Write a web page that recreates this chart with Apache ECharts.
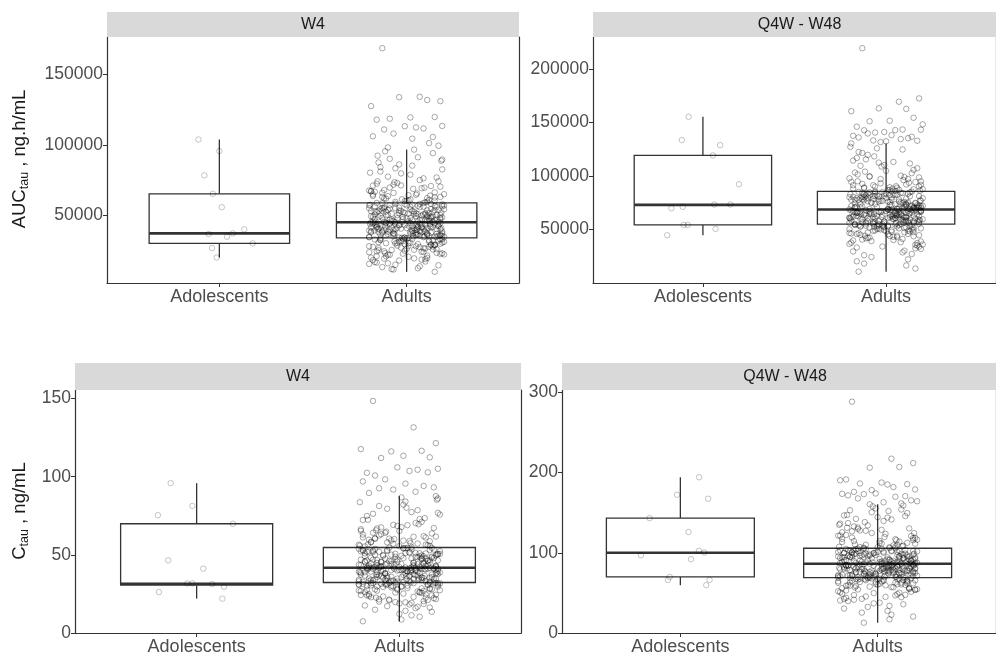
<!DOCTYPE html>
<html>
<head>
<meta charset="utf-8">
<script src="https://cdn.jsdelivr.net/npm/echarts@6/dist/echarts.min.js"></script>
<style>
html,body{margin:0;padding:0;background:#fff;}
#chart{width:996px;height:656px;}
</style>
</head>
<body>
<div id="chart"></div>
<script>
// ---------- data ----------
const categories = ['Adolescents', 'Adults'];
const panelTitles = ['W4', 'Q4W - W48', 'W4', 'Q4W - W48'];

// y-axis tick labels and ranges per panel
const yTicks1 = [50000, 100000, 150000];
const yTicks2 = [50000, 100000, 150000, 200000];
const yTicks3 = [0, 50, 100, 150];
const yTicks4 = [0, 100, 200, 300];
const yRange1 = [2400, 176100];
const yRange2 = [0, 230000];
const yRange3 = [0, 155.5];
const yRange4 = [0, 303];

// box statistics [low whisker, Q1, median, Q3, high whisker] for Adolescents, Adults
const boxAucW4  = [[20400, 30350, 37450, 65400, 103700], [10300, 34200, 45250, 59000, 96600]];
const boxAucW48 = [[44700, 54300, 73000, 119300, 155400], [10600, 55000, 68700, 85600, 130500]];
const boxCW4    = [[22.0, 30.6, 31.5, 69.9, 95.9], [7.4, 32.3, 41.8, 54.7, 87.6]];
const boxCW48   = [[59.6, 69.9, 100, 143.2, 194.2], [12.8, 69.1, 86.4, 105.7, 160.5]];

// adolescents individual values and horizontal jitter (category units)
const adolAucW4  = [103700, 95600, 78400, 65400, 55900, 37000, 35100, 37450, 40300, 30350, 27100, 20400];
const adolAucW4J = [-0.112, 0, -0.08, -0.035, 0.013, -0.057, 0.041, 0.072, 0.133, 0.178, -0.039, -0.014];
const adolAucW48  = [155400, 133600, 128900, 119300, 92400, 69900, 71200, 73400, 73400, 54300, 54300, 50600, 44700];
const adolAucW48J = [-0.078, -0.115, 0.094, 0.055, 0.197, -0.172, -0.11, 0.062, 0.15, -0.105, -0.083, 0.069, -0.195];
const adolCW4  = [95.9, 81.3, 75.4, 69.9, 46.5, 41.2, 31.7, 31.7, 31.3, 29.6, 26.2, 22.0];
const adolCW4J = [-0.128, -0.021, -0.191, 0.179, -0.14, 0.033, -0.046, -0.021, 0.077, 0.135, -0.186, 0.127];
const adolCW48  = [194.2, 172.4, 167.4, 143.2, 125.9, 97.0, 102.5, 100.4, 92.1, 69.9, 66.2, 66.2, 59.6];
const adolCW48J = [0.095, -0.017, 0.141, -0.156, 0.041, -0.2, 0.094, 0.121, 0.054, -0.054, -0.063, 0.148, 0.131];

// adults individual values
const adultAucW4 = [
168200,133900,130800,133600,131600,127300,119300,119600,118400,117700,112200,113300,113100,110800,111500,105500,107900,106000,104300,101200,99300,98100,
27400,18900,31200,22600,33800,15300,29700,24100,12800,30500,26300,20900,32700,17600,28800,23400,33100,19800,25700,10300,
31900,21700,27900,14200,30100,24800,33500,16800,29200,22300,26900,18300,32300,20400,28300,13600,31600,25200,23700,11900,
30800,27100,19300,33300,21200,29900,15900,26100,32000,24500,17200,28600,22900,30300,20100,33900,25900,16300,31400,23100,
29500,18600,27700,12200,32500,21400,26600,14900,30700,24300,19600,28100,
38200,42700,35100,44300,36800,40900,43600,34600,39500,41800,37300,44900,35700,40200,42200,38800,36100,43100,39900,34900,
41300,37700,44600,36400,42900,38500,35400,40600,43900,37000,41000,34400,39200,44100,36600,42400,38000,35900,40400,43400,
37500,41600,44800,35200,39700,42000,36300,38700,43300,40000,34800,41900,37200,44400,39000,35600,42600,36900,40800,43700,
38300,35000,41200,44000,37900,39400,42300,36000,40500,34300,43000,38600,41500,37400,45000,
51200,47300,56800,49100,53700,45800,58200,50400,54900,46700,52500,48200,57400,50900,55600,45500,53100,49700,58700,47800,
52000,56100,46200,54300,48800,51700,57900,50100,45900,55200,49400,53400,47000,56500,51400,48500,58400,46500,54600,52800,
50600,57100,47500,53900,49000,55900,46000,51900,58900,48000,54100,50300,56300,45600,52300,49600,57600,47100,55000,51000,
53300,46900,58100,50700,54700,48400,52700,56600,45400,49900,55400,47700,53600,51600,57200,
62300,71800,66400,84200,60700,77500,68900,92300,64100,73600,88700,61500,69700,80300,65600,95400,63200,75100,70400,86100,
59800,67200,78900,62800,90100,72500,64700,82600,60200,68100,76300,94100,66000,71200,85300,61100,74300,63700,79800,69300,
87500,65100,60500,83400,70900,67700,91200,62000,76900,64400,81100,59400,73000,89600,66800,96600,
41700,28900,52300,36400,63800,47100,33200,55800,39600,24700,49300,44200,58900,31500,42800,67200,37900,53600,46300,29800,
50500,35500,61400,43900,26800,48700,40300,56900,34700,45700,71300,38400,52900,30600,44600,59700,36900,49800,41100,22400,
54400,33700,46800,64900,39100,51300,27900,43400,57300,35800,48100,40700,62100,32300,45200,53200,37100,69800,42000,25600,
50900,34200,47600,58300,38600,44900,30900,55200,41500,66100,36200,51800,43000,28400,49100,39900,60600,33000,46000,54000,
37600,74200,42500,31900,52100,45400,35300,57600,40800,23500,48400,44400,63200,34500,50000,38900,56200,29300,47000,42100
];
const adultAucW48 = [
219500,169500,172600,163300,162800,160600,151700,154500,151200,146100,143000,143300,141200,142800,143500,136700,133300,137600,138200,135400,133000,139800,131800,134600,136100,148300,132500,140700,
48200,36500,52800,41700,13500,53900,45100,30200,50600,38900,54600,43300,24300,47600,34100,51900,39800,54200,44700,18200,
49500,33200,53300,42400,28600,50900,37400,46300,54800,40600,22100,52300,35700,48800,44000,10600,51400,31800,53600,42900,
46900,27100,50100,38100,54400,45600,33900,49100,16400,52600,40200,47200,36000,53100,43700,29500,51100,39200,45900,20300,
48500,35000,53800,41200,26000,50300,37800,47900,32500,52000,44300,54000,
61200,57400,66300,59100,63800,55600,67900,60300,64700,56800,62500,58300,67100,60900,65600,55300,63100,59700,68400,57800,
62000,66000,56200,64300,58800,61700,67600,60100,55900,65100,59400,63400,57000,66600,61400,58500,68100,56500,64500,62800,
60600,67300,57500,63900,59000,65900,56000,61900,68600,58000,64100,60400,66200,55500,62300,59600,67400,57100,65000,61000,
63300,56900,68000,60700,64800,58400,62700,66500,55200,59900,65400,57700,63600,61600,67200,
76200,70400,82800,72900,79300,69100,84700,74600,80900,71300,77800,73500,83900,75300,81600,69500,78600,73100,85200,71000,
77100,82100,69800,80200,72500,76700,84300,74200,69300,81200,73800,79000,70700,82500,76500,72100,84900,70100,80600,78200,
75000,83500,71600,79700,72800,81900,69600,77400,85500,71900,80000,74900,82300,69000,77600,73300,83200,70900,81000,75700,
78900,70300,84500,75400,80400,72300,78400,82700,68800,74000,81400,71200,79500,76000,83700,
88200,101500,93700,118400,86400,108900,96200,127300,90500,104100,121600,87300,98700,112600,92100,130500,89500,105800,99600,116900,
86000,95100,110300,88800,124800,102700,91400,114500,85900,97300,107300,119800,93200,100400,122500,87700,104900,90100,111700,97900,
89000,115600,94400,86900,109600,99100,125900,91800,103300,113200,
64200,51800,76900,58600,88400,69400,55400,80700,62700,45800,72300,66800,84100,53700,70200,94600,60900,78300,67500,49300,
74400,57200,86900,65300,47400,71800,63100,82400,56100,68300,97200,59300,77700,52900,66600,85700,58000,73600,63500,42300,
79300,54800,69900,91400,61300,75400,48900,65800,83300,57600,71100,62400,89300,54000,67900,78000,60300,99600,64600,46600,
75800,55800,70600,84800,61700,68000,51100,81300,63900,92700,59000,76300,65100,50200,72600,62000,87600,53300,68900,79700,
60000,95100,64900,52400,77100,67200,56700,83000,63300,44200,71500,66300,90200,55100,73200,61600,81900,49700,69200,65500
];
const adultCW4 = [
148.5,131.6,121.5,116.2,116.6,117.7,113.4,112.4,112.0,102.5,103.7,105.1,106.0,100.8,104.5,102.8,98.3,97.0,95.6,94.1,93.2,92.6,91.8,90.4,89.6,
27.4,18.9,31.2,22.6,30.8,11.3,29.7,24.1,8.6,30.5,26.3,20.9,31.7,17.6,28.8,23.4,32.1,19.8,25.7,7.5,
31.9,21.7,27.9,14.2,30.1,24.8,31.5,16.8,29.2,22.3,26.9,18.3,32.0,20.4,28.3,13.6,31.6,25.2,23.7,10.4,
30.9,27.1,19.3,31.3,21.2,29.9,15.9,26.1,30.0,24.5,17.2,28.6,22.9,30.3,20.1,31.8,25.9,16.3,31.4,23.1,
29.5,18.6,27.7,12.2,32.2,21.4,26.6,14.9,30.7,24.3,19.6,28.1,
36.2,40.1,33.1,41.3,34.8,38.9,40.6,32.6,37.5,39.8,35.3,41.6,33.7,38.2,40.2,36.8,34.1,40.9,37.9,32.9,
39.3,35.7,41.5,34.4,40.8,36.5,33.4,38.6,41.1,35.0,39.0,32.4,37.2,41.0,34.6,40.4,36.0,33.9,38.4,40.7,
35.5,39.6,41.7,33.2,37.7,40.0,34.3,36.7,41.2,38.0,32.8,39.9,35.2,41.4,37.0,33.6,40.5,34.9,38.8,40.3,
36.3,33.0,39.2,41.8,35.9,37.4,40.3,34.0,38.5,32.3,41.0,36.6,39.5,35.4,41.6,
47.2,43.3,52.8,45.1,49.7,42.1,54.2,46.4,50.9,42.7,48.5,44.2,53.4,46.9,51.6,41.9,49.1,45.7,54.5,43.8,
48.0,52.1,42.4,50.3,44.8,47.7,53.9,46.1,42.0,51.2,45.4,49.4,43.0,52.5,47.4,44.5,54.4,42.5,50.6,48.8,
46.6,53.1,43.5,49.9,45.0,51.9,42.2,47.9,54.6,44.0,50.1,46.3,52.3,41.9,48.3,45.6,53.6,43.1,51.0,47.0,
49.3,42.9,54.1,46.7,50.7,44.4,48.7,52.6,42.3,45.9,51.4,43.7,49.6,47.6,53.2,
58.3,67.8,62.4,80.2,56.7,73.5,64.9,85.3,60.1,69.6,83.7,57.5,65.7,76.3,61.6,87.6,59.2,71.1,66.4,82.1,
55.8,63.2,74.9,58.8,86.1,68.5,60.7,78.6,56.2,64.1,72.3,84.1,62.0,67.2,81.3,57.1,70.3,59.7,75.8,65.3,
79.5,61.1,56.5,77.4,66.9,63.7,86.8,58.0,72.9,60.4,76.9,55.4,69.0,
40.1,28.6,50.7,35.3,61.2,44.9,32.1,53.8,38.2,24.1,47.6,42.6,57.3,30.2,41.2,65.4,36.1,51.9,44.4,27.7,
48.9,34.0,59.1,42.0,25.8,46.5,39.0,55.0,33.1,43.8,69.2,36.9,51.0,29.4,42.9,58.0,35.6,48.2,39.5,21.5,
52.4,32.4,45.1,63.0,37.6,49.4,26.9,41.8,55.6,34.5,46.2,39.2,60.3,31.1,43.5,51.2,35.7,67.6,40.4,24.8,
49.0,32.9,45.9,56.5,37.1,43.2,29.7,53.1,39.9,64.2,34.8,50.1,41.4,27.2,47.3,38.4,58.7,31.8,44.1,52.0,
36.4,72.5,40.9,30.7,50.3,43.7,34.2,55.9,39.3,22.6,46.9,42.8,61.7,33.3,48.1,37.3,54.3,28.1,45.3,40.6
];
const adultCW48 = [
288.4,217.3,211.9,206.2,207.0,190.5,187.6,185.6,186.4,191.4,185.2,179.0,174.0,176.0,169.9,170.7,173.2,173.5,163.0,161.7,165.4,167.8,178.2,181.9,171.6,164.3,
60.2,45.5,66.0,52.1,17.1,67.4,56.4,37.8,63.3,48.6,68.3,54.1,30.4,59.5,42.6,64.9,49.8,67.8,55.9,22.8,
61.9,41.5,66.6,53.0,35.8,63.6,46.8,57.9,68.5,50.8,27.6,65.4,44.6,61.0,55.0,12.8,64.3,39.8,67.0,53.6,
58.6,33.9,62.6,47.6,68.0,57.0,42.4,61.4,20.5,65.8,50.3,59.0,45.0,66.4,54.6,36.9,63.9,49.0,57.4,25.4,
60.6,43.8,67.2,51.5,32.5,62.9,47.3,59.9,40.6,65.0,55.4,67.5,
76.5,71.8,82.9,73.9,79.8,69.5,85.9,75.4,80.9,71.0,78.1,72.9,84.0,76.1,82.0,69.1,78.9,74.6,85.5,72.2,
77.5,82.5,70.2,80.4,73.5,77.1,84.5,75.1,69.9,81.4,74.3,79.3,71.2,83.3,76.8,73.1,85.1,70.6,80.6,78.5,
75.7,84.1,71.9,79.9,73.7,82.4,70.0,77.4,85.7,72.5,80.1,75.5,82.8,69.4,77.9,74.5,84.3,71.4,81.2,76.2,
79.1,71.1,85.0,75.9,81.0,73.0,78.4,83.1,69.2,74.9,81.8,72.1,79.5,77.0,83.9,
95.1,88.6,101.9,91.4,98.3,86.9,104.8,93.9,99.7,87.8,96.5,90.5,103.0,94.4,100.6,86.6,97.4,91.9,105.4,89.3,
96.1,101.1,87.2,99.0,90.9,95.6,103.8,93.2,86.7,100.0,92.4,97.8,88.1,102.3,95.3,90.2,105.1,87.5,99.4,96.9,
94.0,102.7,88.9,98.6,91.1,100.9,86.8,95.9,105.6,89.7,98.9,93.6,101.5,86.5,96.3,91.6,103.4,88.3,100.3,94.7,
97.1,87.9,104.4,94.2,99.2,90.0,96.7,102.0,86.4,92.0,100.8,89.0,98.0,95.0,103.2,
112.4,131.6,119.8,147.2,108.1,138.3,124.5,157.9,115.6,134.9,152.1,110.5,126.8,141.6,118.2,160.5,113.9,136.4,128.7,149.5,
107.2,122.3,143.9,111.3,155.4,132.8,117.0,145.8,106.4,125.6,139.7,154.0,120.9,129.9,150.6,109.4,137.1,116.4,144.5,127.5,
159.0,121.4,106.9,142.3,130.4,114.7,153.1,110.0,134.2,118.7,146.6,123.6,
82.4,66.5,99.6,75.2,113.5,89.0,71.1,103.6,80.4,58.8,92.8,85.7,108.0,68.9,90.1,121.4,78.1,100.5,86.6,63.2,
95.5,73.4,111.5,83.8,60.8,92.1,81.0,105.8,72.0,87.7,124.7,76.1,99.7,67.9,85.5,110.0,74.4,94.5,81.5,54.3,
101.8,70.3,89.7,117.3,78.6,96.8,62.7,84.4,106.9,73.9,91.3,80.1,114.6,69.3,87.2,100.1,77.4,127.8,82.9,59.8,
97.3,71.6,90.6,108.8,79.1,87.3,65.6,104.3,82.0,119.0,75.7,97.9,83.5,64.4,93.2,79.6,112.4,68.2,88.5,102.4,
77.0,131.2,83.2,67.2,98.8,88.0,72.7,107.5,80.8,56.8,94.0,85.0,115.8,70.7,95.8,79.4,105.0,61.9,90.4,84.1
];
// horizontal jitter offsets for adults (category units), reused cyclically
const adultJitter = [
-0.13,0.07,0.18,-0.04,0.11,-0.19,0.02,0.15,-0.09,-0.16,0.05,0.19,-0.01,-0.12,0.09,0.14,-0.07,-0.18,0.03,0.12,
0.17,-0.10,-0.03,0.08,-0.15,0.20,0.00,-0.06,0.13,-0.20,0.06,-0.11,0.16,0.01,-0.14,0.10,-0.05,0.19,-0.17,0.04,
-0.08,0.15,-0.02,0.11,-0.18,0.07,0.18,-0.12,0.03,-0.16,0.13,-0.09,0.09,-0.04,0.17,-0.19,0.05,-0.13,0.12,-0.01,
0.16,-0.07,0.02,-0.15,0.10,0.19,-0.11,0.06,-0.20,0.14,-0.03,0.08,-0.17,0.01,0.18,-0.06,0.11,-0.14,0.04,-0.10,
0.20,-0.02,0.15,-0.18,0.07,-0.08,0.12,-0.16,0.00,0.17,-0.05,0.09,-0.12,0.14,-0.19,0.03,0.16,-0.09,0.06,-0.15,
0.10,-0.01,-0.17,0.13,0.02,-0.11,0.19,-0.06,0.08,-0.13,0.18,-0.04,0.05,-0.20,0.11,-0.07,0.15,-0.14,0.01,-0.10,
0.035,-0.155,0.125,-0.065,0.185,-0.025,0.095,-0.195,0.055,-0.115
];

// ---------- layout / style ----------
const panels = [
  {grid:{left:107, top:37, width:412, height:246}, strip:25, ticks:yTicks1, range:yRange1, box:boxAucW4,  adol:adolAucW4,  adolJ:adolAucW4J,  adult:adultAucW4},
  {grid:{left:593, top:37, width:413, height:246}, strip:25, ticks:yTicks2, range:yRange2, box:boxAucW48, adol:adolAucW48, adolJ:adolAucW48J, adult:adultAucW48},
  {grid:{left:75,  top:390, width:446, height:245}, strip:27, ticks:yTicks3, range:yRange3, box:boxCW4,    adol:adolCW4,    adolJ:adolCW4J,    adult:adultCW4},
  {grid:{left:562, top:390, width:446, height:245}, strip:27, ticks:yTicks4, range:yRange4, box:boxCW48,   adol:adolCW48,   adolJ:adolCW48J,   adult:adultCW48}
];
const FONT = 'Liberation Sans';
const AXIS_COLOR = '#333333';
const LABEL_COLOR = '#4d4d4d';

const chart = echarts.init(document.getElementById('chart'), null, {renderer:'canvas'});

function renderBox(params, api) {
  const x = api.value(0);
  const lo = api.coord([x, api.value(1)]);
  const q1 = api.coord([x, api.value(2)]);
  const md = api.coord([x, api.value(3)]);
  const q3 = api.coord([x, api.value(4)]);
  const hi = api.coord([x, api.value(5)]);
  const hw = api.size([0.75, 0])[0] / 2;
  const cx = lo[0];
  const ls = {stroke:'#333333', lineWidth:1.3};
  return {type:'group', children:[
    {type:'line', shape:{x1:cx, y1:hi[1], x2:cx, y2:q3[1]}, style:ls},
    {type:'line', shape:{x1:cx, y1:q1[1], x2:cx, y2:lo[1]}, style:ls},
    {type:'rect', shape:{x:cx-hw, y:q3[1], width:2*hw, height:q1[1]-q3[1]}, style:{fill:'#ffffff', stroke:'#333333', lineWidth:1.3}},
    {type:'line', shape:{x1:cx-hw, y1:md[1], x2:cx+hw, y2:md[1]}, style:{stroke:'#333333', lineWidth:2.6}}
  ]};
}

const grid = [], xAxis = [], yAxis = [], series = [], graphic = [];
panels.forEach((p, i) => {
  grid.push(Object.assign({containLabel:false}, p.grid));
  xAxis.push({
    type:'value', gridIndex:i, min:0.4, max:2.6,
    splitLine:{show:false},
    axisLine:{show:true, onZero:false, lineStyle:{color:AXIS_COLOR, width:1.2}},
    axisTick:{show:true, length:4, customValues:[1,2], lineStyle:{color:AXIS_COLOR}},
    axisLabel:{show:true, customValues:[1,2], margin:5, color:LABEL_COLOR, fontSize:18, fontFamily:FONT,
      formatter:(v) => categories[Math.round(v) - 1]}
  });
  yAxis.push({
    type:'value', gridIndex:i, min:p.range[0], max:p.range[1],
    splitLine:{show:false},
    axisLine:{show:true, onZero:false, lineStyle:{color:AXIS_COLOR, width:1.2}},
    axisTick:{show:true, length:4, customValues:p.ticks, lineStyle:{color:AXIS_COLOR}},
    axisLabel:{show:true, customValues:p.ticks, margin:4, color:LABEL_COLOR, fontSize:17.5, fontFamily:FONT,
      formatter:(v) => String(v)}
  });
  // right border of the panel
  yAxis.push({
    type:'value', gridIndex:i, position:'right', min:p.range[0], max:p.range[1],
    splitLine:{show:false}, axisTick:{show:false}, axisLabel:{show:false},
    axisLine:{show:true, onZero:false, lineStyle:{color:AXIS_COLOR, width:1.2}}
  });
  series.push({
    type:'custom', xAxisIndex:i, yAxisIndex:2*i, z:2, silent:true,
    renderItem:renderBox,
    encode:{x:0, y:[1,2,3,4,5]},
    data:p.box.map((b, k) => [k + 1].concat(b))
  });
  series.push({
    type:'scatter', xAxisIndex:i, yAxisIndex:2*i, z:3, silent:true,
    symbol:'circle', symbolSize:5.5,
    itemStyle:{color:'rgba(0,0,0,0)', borderColor:'rgba(0,0,0,0.28)', borderWidth:1},
    data:p.adol.map((v, k) => [1 + p.adolJ[k], v])
  });
  series.push({
    type:'scatter', xAxisIndex:i, yAxisIndex:2*i, z:3, silent:true,
    symbol:'circle', symbolSize:5.5, large:false,
    itemStyle:{color:'rgba(0,0,0,0)', borderColor:'rgba(0,0,0,0.42)', borderWidth:1},
    data:p.adult.map((v, k) => [2 + adultJitter[k % adultJitter.length], v])
  });
  // facet strip
  graphic.push({
    type:'rect', z:10, silent:true,
    shape:{x:p.grid.left, y:p.grid.top - p.strip, width:p.grid.width, height:p.strip},
    style:{fill:'#d9d9d9'}
  });
  graphic.push({
    type:'text', z:11, silent:true,
    x:p.grid.left + p.grid.width / 2, y:p.grid.top - p.strip / 2,
    style:{text:panelTitles[i], fill:'#1a1a1a', font:'16px "' + FONT + '"', align:'center', verticalAlign:'middle'}
  });
});

// y-axis titles with subscripts
const richTitle = {
  m:{fontSize:18.5, fontFamily:FONT, fill:'#1a1a1a', lineHeight:26},
  s:{fontSize:12.5, fontFamily:FONT, fill:'#1a1a1a', lineHeight:26, padding:[9,0,0,0]}
};
graphic.push({
  type:'text', z:11, silent:true, x:20, y:159, rotation:Math.PI/2,
  style:{text:'{m|AUC}{s|tau}{m| , ng.h/mL}', rich:richTitle, align:'center', verticalAlign:'middle'}
});
graphic.push({
  type:'text', z:11, silent:true, x:20, y:511, rotation:Math.PI/2,
  style:{text:'{m|C}{s|tau}{m| , ng/mL}', rich:richTitle, align:'center', verticalAlign:'middle'}
});

chart.setOption({
  animation:false,
  backgroundColor:'#ffffff',
  grid, xAxis, yAxis, series, graphic
});
</script>
</body>
</html>
